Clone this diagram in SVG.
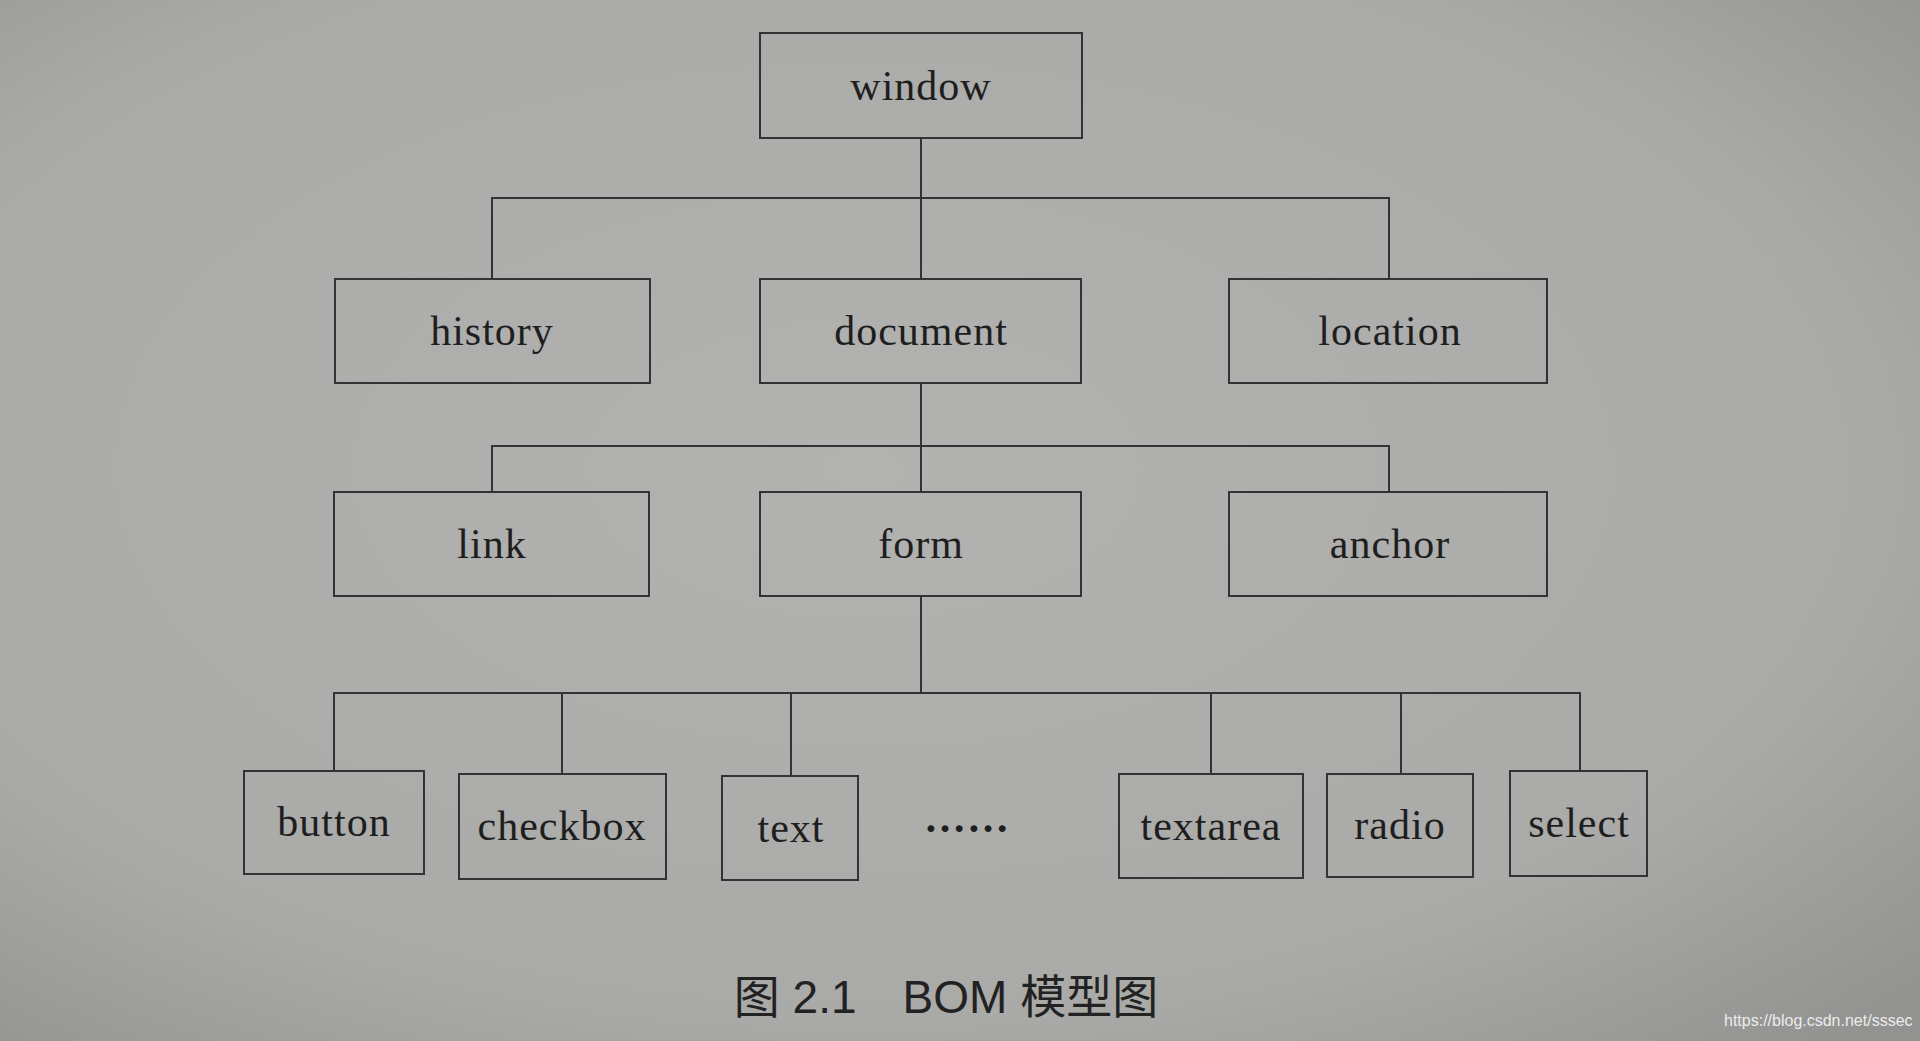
<svg xmlns="http://www.w3.org/2000/svg" width="1920" height="1041" viewBox="0 0 1920 1041">
<defs>
<style>
.box{fill:none;stroke:#333;stroke-width:2}
.lbl{font-family:"Liberation Serif","Times New Roman",serif;font-size:42px;fill:#1e1e1e;text-anchor:middle;letter-spacing:1px}
.con{fill:none;stroke:#333;stroke-width:2}
.cap{font-family:"Liberation Sans","Noto Sans CJK SC",sans-serif;font-size:46px;fill:#222;text-anchor:middle}
.wm{font-family:"Liberation Sans",Arial,sans-serif;font-size:16px;fill:#ececec}
</style>
<radialGradient id="bg" cx="0.45" cy="0.45" r="0.75">
<stop offset="0" stop-color="#b2b2b0"/>
<stop offset="0.7" stop-color="#aaaaa8"/>
<stop offset="1" stop-color="#929290"/>
</radialGradient>
</defs>
<rect width="1920" height="1041" fill="url(#bg)"/>
<g id="connectors">
<path class="con" d="M921 138V279M492 279V198H1389V279"/>
<path class="con" d="M921 383V492M492 492V446H1389V492"/>
<path class="con" d="M921 596V693M334 771V693H1580V771M562 693V774M791 693V776M1211 693V774M1401 693V774"/>
</g>
<g id="window"><rect class="box" x="760" y="33" width="322" height="105"/><text class="lbl" x="921" y="100">window</text></g>
<g id="history"><rect class="box" x="335" y="279" width="315" height="104"/><text class="lbl" x="492" y="345">history</text></g>
<g id="document"><rect class="box" x="760" y="279" width="321" height="104"/><text class="lbl" x="921" y="345">document</text></g>
<g id="location"><rect class="box" x="1229" y="279" width="318" height="104"/><text class="lbl" x="1390" y="345">location</text></g>
<g id="link"><rect class="box" x="334" y="492" width="315" height="104"/><text class="lbl" x="492" y="558">link</text></g>
<g id="form"><rect class="box" x="760" y="492" width="321" height="104"/><text class="lbl" x="921" y="558">form</text></g>
<g id="anchor"><rect class="box" x="1229" y="492" width="318" height="104"/><text class="lbl" x="1390" y="558">anchor</text></g>
<g id="button"><rect class="box" x="244" y="771" width="180" height="103"/><text class="lbl" x="334" y="836">button</text></g>
<g id="checkbox"><rect class="box" x="459" y="774" width="207" height="105"/><text class="lbl" x="562" y="840">checkbox</text></g>
<g id="text"><rect class="box" x="722" y="776" width="136" height="104"/><text class="lbl" x="791" y="842">text</text></g>
<g id="ellipsis"><text class="lbl" x="967" y="832" font-weight="bold">……</text></g>
<g id="textarea"><rect class="box" x="1119" y="774" width="184" height="104"/><text class="lbl" x="1211" y="840">textarea</text></g>
<g id="radio"><rect class="box" x="1327" y="774" width="146" height="103"/><text class="lbl" x="1400" y="839">radio</text></g>
<g id="select"><rect class="box" x="1510" y="771" width="137" height="105"/><text class="lbl" x="1579" y="837">select</text></g>
<text class="cap" x="946" y="1013">图 2.1　BOM 模型图</text>
<text class="wm" x="1724" y="1026">https://blog.csdn.net/sssec</text>
</svg>
